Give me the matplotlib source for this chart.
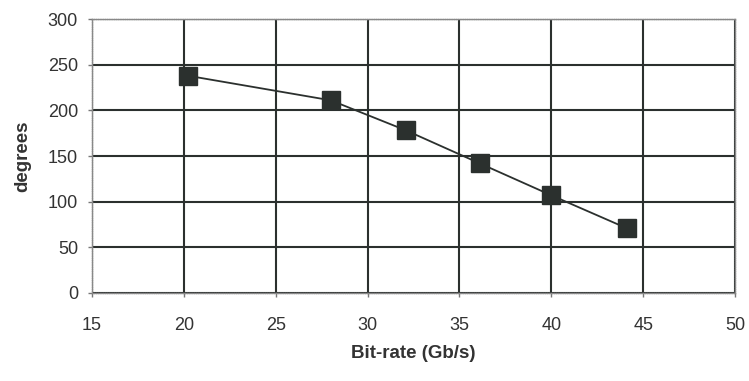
import matplotlib
matplotlib.use("Agg")
import matplotlib.pyplot as plt

# values
bitRate = [20.2, 28.0, 32.1, 36.1, 40.0, 44.1]
degrees = [238, 211, 178, 142, 107, 71]
xTicks = [15, 20, 25, 30, 35, 40, 45, 50]
yTicks = [0, 50, 100, 150, 200, 250, 300]

plt.rcParams['font.family'] = ['Liberation Sans', 'DejaVu Sans']
ink = '#2b302e'

fig = plt.figure(figsize=(7.49, 3.81), dpi=100)
ax = fig.add_axes([0.1228, 0.231, 0.8585, 0.719])

ax.plot(bitRate, degrees, color=ink, linewidth=1.3, marker='s',
        markersize=13, markerfacecolor=ink, markeredgecolor=ink, zorder=3)

ax.set_xlim(15, 50)
ax.set_ylim(0, 300)
ax.set_xticks(xTicks)
ax.set_yticks(yTicks)
ax.grid(True, color=ink, linewidth=1.5)
ax.set_axisbelow(True)

for side in ax.spines.values():
    side.set_color('#888888')
    side.set_linewidth(1.0)
    side.set_linestyle((0, (1, 0.6)))

ax.tick_params(axis='x', length=3, width=1, color='#777777', pad=14,
               labelsize=13, labelcolor='#333333')
ax.tick_params(axis='y', length=3, width=1, color='#777777', pad=7,
               labelsize=13, labelcolor='#333333')

ax.set_xlabel("Bit-rate (Gb/s)", fontsize=13.5, fontweight='bold', color='#333333', labelpad=8)
ax.set_ylabel("degrees", fontsize=13.5, fontweight='bold', color='#333333', labelpad=12)

plt.savefig("out.png", dpi=100)
